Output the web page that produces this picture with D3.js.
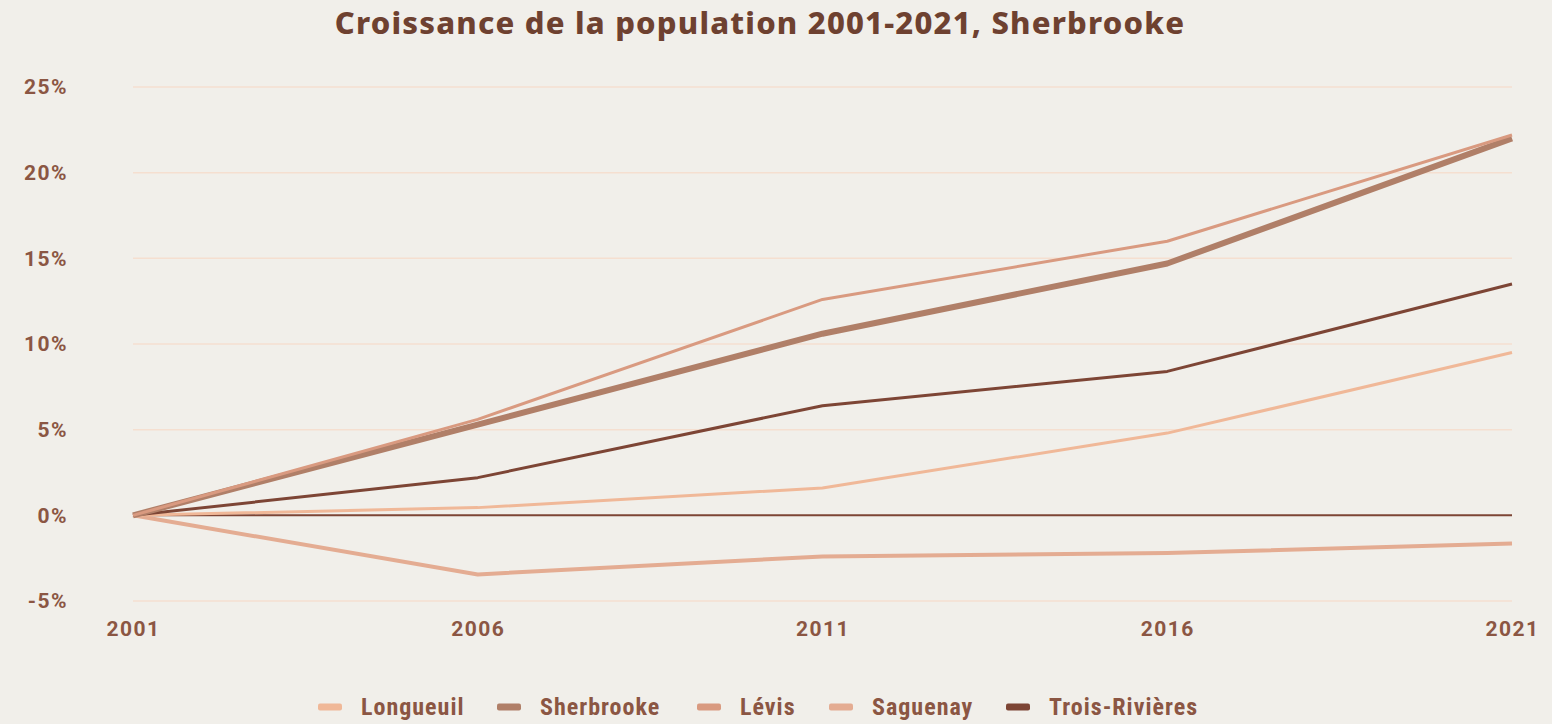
<!DOCTYPE html>
<html>
<head>
<meta charset="utf-8">
<script src="https://cdn.jsdelivr.net/npm/d3@7"></script>
<style>
  body { margin: 0; background: #f1efea; }
  svg { display: block; }
</style>
</head>
<body>
<div id="chart"></div>
<script>
// data
const years = [2001, 2006, 2011, 2016, 2021];
const longueuil = [0, 0.45, 1.6, 4.8, 9.5];
const sherbrooke = [0, 5.3, 10.6, 14.7, 22.0];
const levis = [0, 5.6, 12.6, 16.0, 22.2];
const saguenay = [0, -3.45, -2.4, -2.2, -1.65];
const troisRivieres = [0, 2.2, 6.4, 8.4, 13.5];
const yTicks = [-5, 0, 5, 10, 15, 20, 25];

const series = [
  { name: "Longueuil", values: longueuil, color: "#f0b898", w: 3 },
  { name: "Sherbrooke", values: sherbrooke, color: "#b07f68", w: 6 },
  { name: "Lévis", values: levis, color: "#d99a80", w: 3 },
  { name: "Saguenay", values: saguenay, color: "#e4ac92", w: 4 },
  { name: "Trois-Rivières", values: troisRivieres, color: "#7d4535", w: 3 }
];
const drawOrder = ["Saguenay", "Longueuil", "Trois-Rivières", "Sherbrooke", "Lévis"];

const width = 1552, height = 724;
const margin = { left: 133, right: 40, top: 87, bottom: 123 };

const svg = d3.select("#chart").append("svg")
  .attr("width", width)
  .attr("height", height);

const x = d3.scalePoint()
  .domain(years)
  .range([margin.left, width - margin.right]);

const y = d3.scaleLinear()
  .domain([-5, 25])
  .range([height - margin.bottom, margin.top]);

// title
svg.append("text")
  .attr("x", 760).attr("y", 34)
  .attr("text-anchor", "middle")
  .attr("font-family", "'Noto Sans', sans-serif")
  .attr("font-weight", 800)
  .attr("font-size", 31)
  .attr("letter-spacing", 1.2)
  .attr("fill", "#6e4130")
  .text("Croissance de la population 2001-2021, Sherbrooke");

// gridlines
svg.append("g")
  .selectAll("line")
  .data(yTicks.filter(d => d !== 0))
  .join("line")
  .attr("x1", x(2001)).attr("x2", x(2021))
  .attr("y1", d => y(d)).attr("y2", d => y(d))
  .attr("stroke", "#f5dfd0")
  .attr("stroke-width", 1.5);

// y axis labels
const yAxis = svg.append("g")
  .attr("transform", "translate(68,0)")
  .call(d3.axisLeft(y).tickValues(yTicks).tickSize(0).tickFormat(d => d + "%"));
yAxis.select(".domain").remove();
yAxis.selectAll("text")
  .attr("font-family", "Roboto, sans-serif")
  .attr("font-weight", 700)
  .attr("font-size", 21)
  .attr("letter-spacing", 1.5)
  .attr("fill", "#8b5643")
  .attr("x", 0);

// x axis labels
const xAxis = svg.append("g")
  .attr("transform", `translate(0,${y(-5) + 17})`)
  .call(d3.axisBottom(x).tickSize(0));
xAxis.select(".domain").remove();
xAxis.selectAll("text")
  .attr("font-family", "Roboto, sans-serif")
  .attr("font-weight", 700)
  .attr("font-size", 21)
  .attr("letter-spacing", 1.5)
  .attr("fill", "#8b5643");

// zero line
svg.append("line")
  .attr("x1", x(2001)).attr("x2", x(2021))
  .attr("y1", y(0)).attr("y2", y(0))
  .attr("stroke", "#7d4535")
  .attr("stroke-width", 2);

const line = d3.line()
  .x((d, i) => x(years[i]))
  .y(d => y(d));

svg.append("g")
  .selectAll("path")
  .data(drawOrder.map(n => series.find(s => s.name === n)))
  .join("path")
  .attr("d", d => line(d.values))
  .attr("fill", "none")
  .attr("stroke", d => d.color)
  .attr("stroke-width", d => d.w)
  .attr("stroke-linejoin", "round");

// legend
const legendX = [318, 497, 697, 829, 1006];
const legend = svg.append("g")
  .selectAll("g")
  .data(series)
  .join("g")
  .attr("transform", (d, i) => `translate(${legendX[i]},707)`);
legend.append("rect")
  .attr("x", 0).attr("y", -3.5)
  .attr("width", 24).attr("height", 7)
  .attr("rx", 2)
  .attr("fill", d => d.color);
legend.append("text")
  .attr("x", 43).attr("y", 0)
  .attr("dy", "0.35em")
  .attr("font-family", "'Liberation Sans Narrow', 'Roboto Condensed', Roboto, sans-serif")
  .attr("font-weight", 700)
  .attr("font-size", 24)
  .attr("letter-spacing", 1)
  .attr("fill", "#8b5643")
  .text(d => d.name);
</script>
</body>
</html>
